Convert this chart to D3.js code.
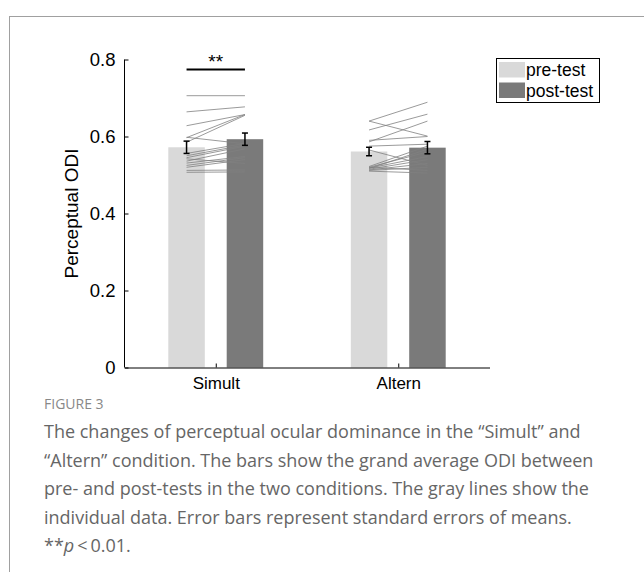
<!DOCTYPE html>
<html>
<head>
<meta charset="utf-8">
<script src="https://cdn.jsdelivr.net/npm/d3@7/dist/d3.min.js"></script>
<style>
  html, body { margin: 0; padding: 0; background: #fff; }
  svg { display: block; }
</style>
</head>
<body>
<svg id="chart" width="644" height="572"></svg>
<script>
// ---- data ----
const categories = ["Simult", "Altern"];
const seriesNames = ["pre-test", "post-test"];
const preMeans = [0.572, 0.561];
const postMeans = [0.593, 0.571];
const preSE = [0.016, 0.011];
const postSE = [0.016, 0.016];
const yTicks = [0, 0.2, 0.4, 0.6, 0.8];
// individual subjects: [pre, post]
const simultSubjects = [
  [0.706, 0.706], [0.664, 0.677], [0.628, 0.657], [0.597, 0.657], [0.585, 0.655],
  [0.598, 0.581], [0.556, 0.582], [0.550, 0.578], [0.545, 0.575], [0.542, 0.530],
  [0.536, 0.568], [0.531, 0.548], [0.525, 0.545], [0.520, 0.540], [0.512, 0.513],
  [0.507, 0.508]
];
const alternSubjects = [
  [0.640, 0.689], [0.617, 0.658], [0.640, 0.601], [0.586, 0.640], [0.590, 0.600],
  [0.575, 0.580], [0.565, 0.525], [0.517, 0.567], [0.520, 0.560], [0.518, 0.548],
  [0.515, 0.540], [0.513, 0.530], [0.512, 0.520], [0.510, 0.505], [0.520, 0.512],
  [0.522, 0.575]
];
const subjects = [simultSubjects, alternSubjects];
const sigLabel = "**";

// ---- layout ----
const svg = d3.select("#chart");
const colors = ["#d9d9d9", "#7a7a7a"];
const FONT = "Liberation Sans, Arial, sans-serif";

// outer frame
svg.append("rect").attr("x", 9.5).attr("y", 16.5).attr("width", 700).attr("height", 700)
  .attr("fill", "none").attr("stroke", "#a0a0a0").attr("stroke-width", 1);

const x = d3.scaleLinear().domain([0.5, 2.5]).range([124.5, 489.5]);
const y = d3.scaleLinear().domain([0, 0.8]).range([367.5, 59.5]);
const off = 0.16, bw = 0.2;

const g = svg.append("g");

// bars
categories.forEach((c, i) => {
  [preMeans[i], postMeans[i]].forEach((v, s) => {
    const cx = x(i + 1 + (s === 0 ? -off : off));
    const w = x(bw) - x(0);
    g.append("rect").attr("x", cx - w / 2).attr("y", y(v))
      .attr("width", w).attr("height", y(0) - y(v)).attr("fill", colors[s]);
  });
});

// individual lines
subjects.forEach((arr, i) => {
  arr.forEach(d => {
    g.append("line")
      .attr("x1", x(i + 1 - off)).attr("y1", y(d[0]))
      .attr("x2", x(i + 1 + off)).attr("y2", y(d[1]))
      .attr("stroke", "#808080").attr("stroke-width", 0.8);
  });
});

// error bars
categories.forEach((c, i) => {
  [[preMeans[i], preSE[i]], [postMeans[i], postSE[i]]].forEach((m, s) => {
    const cx = x(i + 1 + (s === 0 ? -off : off));
    const eg = g.append("g").attr("stroke", "#000").attr("stroke-width", 1.5);
    eg.append("line").attr("x1", cx).attr("x2", cx).attr("y1", y(m[0] - m[1])).attr("y2", y(m[0] + m[1]));
    eg.append("line").attr("x1", cx - 3).attr("x2", cx + 3).attr("y1", y(m[0] - m[1])).attr("y2", y(m[0] - m[1]));
    eg.append("line").attr("x1", cx - 3).attr("x2", cx + 3).attr("y1", y(m[0] + m[1])).attr("y2", y(m[0] + m[1]));
  });
});

// axes
const yAxis = d3.axisLeft(y).tickValues(yTicks).tickSizeInner(-4).tickSizeOuter(0)
  .tickFormat(d => d === 0 ? "0" : d3.format(".1f")(d)).tickPadding(9);
const ya = svg.append("g").attr("transform", `translate(${x(0.5)},0)`).call(yAxis);
ya.select(".domain").attr("d", `M0,${y(0.8)}V${y(0)}`).attr("stroke", "#000");
ya.selectAll("text").attr("font-family", FONT).attr("font-size", 18.5).attr("fill", "#000");

const xAxis = d3.axisBottom(x).tickValues([1, 2]).tickSizeInner(-4).tickSizeOuter(0)
  .tickFormat(d => categories[d - 1]).tickPadding(9);
const xa = svg.append("g").attr("transform", `translate(0,${y(0)})`).call(xAxis);
xa.select(".domain").attr("stroke", "#000");
xa.selectAll("text").attr("font-family", FONT).attr("font-size", 17).attr("fill", "#000");

// y label
svg.append("text").attr("transform", `translate(78,${y(0.4)}) rotate(-90)`)
  .attr("text-anchor", "middle").attr("font-family", FONT)
  .attr("font-size", 19).text("Perceptual ODI");

// significance
svg.append("line").attr("x1", x(1 - off)).attr("x2", x(1 + off)).attr("y1", 69.5).attr("y2", 69.5)
  .attr("stroke", "#000").attr("stroke-width", 2);
svg.append("text").attr("x", x(1)).attr("y", 68).attr("text-anchor", "middle")
  .attr("font-family", FONT).attr("font-size", 19).text(sigLabel);

// legend
const lg = svg.append("g");
lg.append("rect").attr("x", 496.5).attr("y", 58.5).attr("width", 103).attr("height", 44)
  .attr("fill", "#fff").attr("stroke", "#000").attr("stroke-width", 1);
seriesNames.forEach((n, s) => {
  lg.append("rect").attr("x", 499).attr("y", 62 + s * 20.5).attr("width", 26).attr("height", 15.5).attr("fill", colors[s]);
  lg.append("text").attr("x", 526).attr("y", 76 + s * 20.5)
    .attr("font-family", FONT).attr("font-size", 17.5).text(n);
});

// caption
svg.append("text").attr("x", 44).attr("y", 409).attr("font-family", "Open Sans, sans-serif")
  .attr("font-size", 14).attr("fill", "#888").text("FIGURE 3");
const capLines = [
  "The changes of perceptual ocular dominance in the \u201cSimult\u201d and",
  "\u201cAltern\u201d condition. The bars show the grand average ODI between",
  "pre- and post-tests in the two conditions. The gray lines show the",
  "individual data. Error bars represent standard errors of means."
];
capLines.forEach((t, i) => {
  svg.append("text").attr("x", 44).attr("y", 438 + i * 28.5)
    .attr("font-family", "Open Sans, sans-serif").attr("font-size", 18).attr("fill", "#666")
    .text(t);
});
const last = svg.append("text").attr("x", 44).attr("y", 438 + 4 * 28.5)
  .attr("font-family", "Open Sans, sans-serif").attr("font-size", 18).attr("fill", "#666");
last.append("tspan").text("**");
last.append("tspan").attr("font-style", "italic").text("p");
last.append("tspan").text("\u2009<\u20090.01.");
</script>
</body>
</html>
